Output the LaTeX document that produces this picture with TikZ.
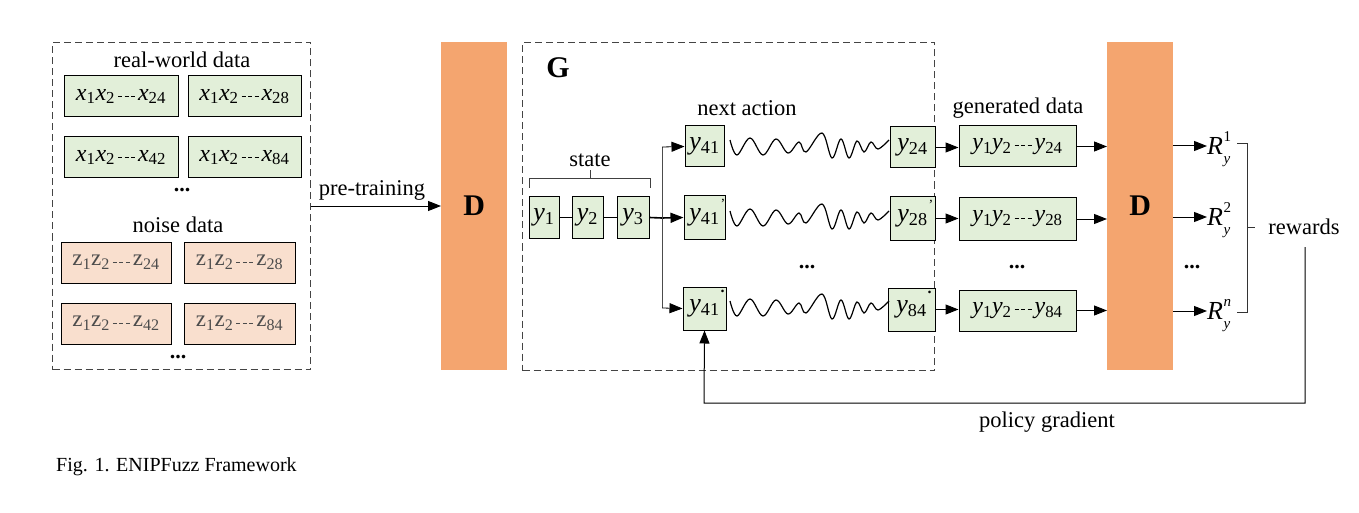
\documentclass[tikz,border=0pt]{standalone}
\usepackage{fontspec}
\setmainfont{Liberation Serif}
\usetikzlibrary{arrows.meta}
\definecolor{gfill}{HTML}{E2EFD9}
\definecolor{ofill}{HTML}{F9DFCE}
\definecolor{dfill}{HTML}{F4A56F}
\definecolor{dashc}{HTML}{444444}
\newcommand\V[2]{\textit{#1}\textsubscript{#2}}
\newcommand\dsh{\rule[0.3ex]{4pt}{1pt}}
\newcommand\dts{\kern3pt\dsh\kern2.5pt\dsh\kern2.5pt\dsh\kern3pt}
\newcommand\seqx[2]{\V{#1}{1}\V{#1}{2}\dts\V{#1}{#2}}
\newcommand\seqz[2]{#1\textsubscript{1}#1\textsubscript{2}\dts#1\textsubscript{#2}}
\newcommand\Rr[1]{\textit{R}\kern0.5pt\rlap{\smash{\raisebox{1.05ex}{\fontsize{15}{15}\selectfont#1}}}\smash{\raisebox{-0.75ex}{\fontsize{15}{15}\selectfont\textit{y}}}}
\newcommand\pra{\rlap{\smash{\raisebox{12pt}{\fontsize{14}{14}\selectfont\kern1pt'}}}}
\newcommand\prb{\rlap{\smash{\raisebox{19pt}{\fontsize{16}{16}\selectfont\kern1pt\textbf{.}}}}}
\begin{document}
\begin{tikzpicture}[x=1pt,y=-1pt,
  lbl/.style={font=\fontsize{22.5}{26}\selectfont, inner sep=0pt},
  var/.style={font=\fontsize{26}{30}\selectfont, inner sep=0pt},
  gbox/.style={draw=black, line width=1pt, fill=gfill, inner sep=0pt, minimum height=41pt, font=\fontsize{26}{30}\selectfont},
  sbox/.style={gbox, font=\fontsize{24}{28}\selectfont},
  obox/.style={draw=black, line width=0.8pt, fill=ofill, inner sep=0pt, minimum height=41pt, text=black!70, font=\fontsize{23}{26}\selectfont},
  dbox/.style={draw=dashc, line width=1pt, dash pattern=on 7pt off 4pt, anchor=north west, inner sep=0pt},
  dnode/.style={fill=dfill, anchor=north west, minimum width=66pt, minimum height=328pt, inner sep=0pt, font=\fontsize{30}{34}\selectfont\bfseries},
  arr/.style={-{Triangle[length=13pt,width=10pt]}, line width=1pt},
  ln/.style={line width=1pt},
  dotl/.style={font=\fontsize{22}{26}\selectfont\bfseries, inner sep=0pt}
]
\useasboundingbox (0,0) rectangle (1359,513);

% ---------- left data box ----------
\node[dbox, minimum width=258pt, minimum height=327pt] (L) at (52,42) {};
\node[lbl] (rwd) at (182,60) {real-world data};
\node[sbox, minimum width=114pt] (x1) at (121,96.5) {\seqx{x}{24}};
\node[sbox, minimum width=113pt] (x2) at (244.5,96.5) {\seqx{x}{28}};
\node[sbox, minimum width=114pt] (x3) at (121,157.5) {\seqx{x}{42}};
\node[sbox, minimum width=113pt] (x4) at (244.5,157.5) {\seqx{x}{84}};
\node[dotl] (ldots1) at (182,190) {...};
\node[lbl] (nd) at (178,225) {noise data};
\node[obox, minimum width=110pt] (z1) at (116,262.5) {\seqz{z}{24}};
\node[obox, minimum width=111pt] (z2) at (239.5,262.5) {\seqz{z}{28}};
\node[obox, minimum width=110pt] (z3) at (116,323.5) {\seqz{z}{42}};
\node[obox, minimum width=111pt] (z4) at (239.5,323.5) {\seqz{z}{84}};
\node[dotl] (ldots2) at (178,357) {...};

% ---------- first D ----------
\node[dnode] (D1) at (441,42) {D};
\draw[arr] (L.east) -- (D1.west |- L.east);
\node[lbl] (pt) at (372,190) {pre-training};

% ---------- G box ----------
\node[dbox, minimum width=412pt, minimum height=328pt] (G) at (522,42) {};
\node[font=\fontsize{30}{34}\selectfont\bfseries, inner sep=0pt] (Glbl) at (558,68) {G};

\node[gbox, minimum width=30pt] (y1) at (544,217.5) {\V{y}{1}};
\node[gbox, minimum width=31pt] (y2) at (587.5,217.5) {\V{y}{2}};
\node[gbox, minimum width=32pt] (y3) at (633,217.5) {\V{y}{3}};
\draw[ln] (y1) -- (y2);
\draw[ln] (y2) -- (y3);
\draw[line width=0.8pt, black!75] (529,188) -- (529,178) -- (650,178) -- (650,188);
\draw[line width=0.8pt, black!75] (590,178) -- (590,170);
\node[lbl] (st) at (590,160) {state};

\node[gbox, minimum width=39pt] (a1) at (704.5,146.5) {\V{y}{41}};
\node[gbox, minimum width=41pt, minimum height=43pt] (a2) at (704.5,217.5) {\V{y}{41}\pra};
\node[gbox, minimum width=43pt, minimum height=43pt] (a3) at (704.5,308.5) {\V{y}{41}\prb};
\node[lbl] (na) at (747,108) {next action};

\coordinate (br) at (662,218);
\coordinate (b1) at (662,147);
\coordinate (b3) at (662,308);
\draw[line width=1.6pt] (y3.east) -- (br);
\draw[arr, line width=1.6pt] (br) -- (a2.west);
\draw[line width=0.8pt, black!70] (b1) -- (b3);
\draw[arr, line width=0.8pt] (b1) -- (a1.west);
\draw[arr, line width=0.8pt] (b3) -- (a3.west);

\node[gbox, minimum width=45pt] (e1) at (912.5,147.5) {\V{y}{24}};
\node[gbox, minimum width=45pt, minimum height=43pt] (e2) at (912.5,218.5) {\V{y}{28}\pra};
\node[gbox, minimum width=47pt, minimum height=43pt] (e3) at (911.5,309.5) {\V{y}{84}\prb};
\node[dotl] (gdots) at (807,267) {...};

% waves
\foreach \s in {0,71,161}{
  \begin{scope}[shift={(0,\s)}]
  \draw[line width=1.2pt] plot[smooth, tension=0.6] coordinates {(730,140) (737,155) (750,138) (763,155) (776,139) (788,153) (799,142) (806,152) (822,133) (832,158) (841,139) (849,158) (857,141) (864,152) (871,142) (878,149) (889,140)};
  \end{scope}
}

% ---------- generated data ----------
\node[lbl] (gd) at (1018,108) {generated data};
\node[sbox, minimum width=117pt] (g1) at (1017.5,146.5) {\seqx{y}{24}};
\node[sbox, minimum width=117pt, minimum height=42pt] (g2) at (1017.5,219) {\seqx{y}{28}};
\node[sbox, minimum width=117pt] (g3) at (1017.5,310.5) {\seqx{y}{84}};
\node[dotl] (gdots2) at (1017,267) {...};
\draw[arr] (e1.east) -- (e1.east -| g1.west);
\draw[arr] (e2.east) -- (e2.east -| g2.west);
\draw[arr] (e3.east) -- (e3.east -| g3.west);

% ---------- second D ----------
\node[dnode] (D2) at (1107,42) {D};
\draw[arr] (g1.east) -- (g1.east -| D2.west);
\draw[arr] (g2.east) -- (g2.east -| D2.west);
\draw[arr] (g3.east) -- (g3.east -| D2.west);

\node[var, anchor=west] (r1) at (1207,146) {\Rr{1}};
\node[var, anchor=west] (r2) at (1207,217) {\Rr{2}};
\node[var, anchor=west] (r3) at (1207,311) {\Rr{\textit{n}}};
\draw[arr] (r1.west -| D2.east) -- (r1.west);
\draw[arr] (r2.west -| D2.east) -- (r2.west);
\draw[arr] (r3.west -| D2.east) -- (r3.west);
\node[dotl] (rdots) at (1192,267) {...};

\draw[line width=0.8pt, black!80] (1237,143) -- (1247,143) -- (1247,312) -- (1237,312);
\draw[line width=0.8pt, black!80] (1247,227) -- (1255,227);
\node[lbl] (rw) at (1304,227) {rewards};

\coordinate (pgs) at (1305,247);
\coordinate (pgc) at (704,403);
\draw[arr] (pgs) |- (pgc) -- (a3.south);
\node[lbl] (pg) at (1047,422) {policy gradient};

\node[font=\fontsize{20}{24}\selectfont, inner sep=0pt, anchor=west] (cap) at (56,467) {Fig. 1. ENIPFuzz Framework};
\end{tikzpicture}
\end{document}
